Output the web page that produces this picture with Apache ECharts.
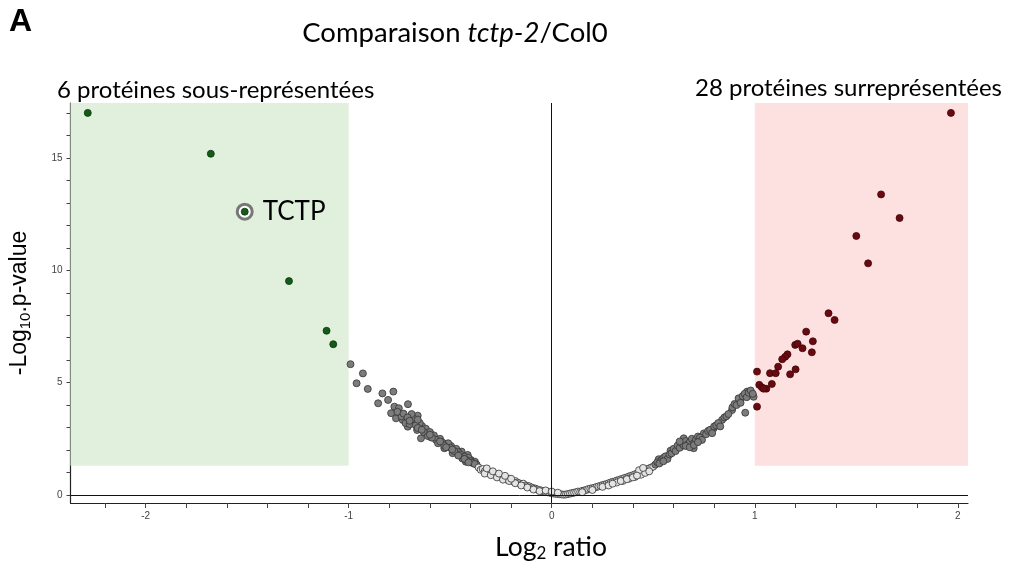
<!DOCTYPE html>
<html><head><meta charset="utf-8">
<script src="https://cdn.jsdelivr.net/npm/echarts@6/dist/echarts.min.js"></script>
<style>html,body{margin:0;padding:0;background:#fff}#c{width:1011px;height:564px}</style>
</head><body><div id="c"></div>
<script>
// ---- Data ----
const xTickValues = [-2.2,-2.0,-1.8,-1.6,-1.4,-1.2,-1.0,-0.8,-0.6,-0.4,-0.2,0,0.2,0.4,0.6,0.8,1.0,1.2,1.4,1.6,1.8,2.0];
const xLabelValues = [-2,-1,0,1,2];
const yTickValues = [0,1,2,3,4,5,6,7,8,9,10,11,12,13,14,15,16,17];
const yLabelValues = [0,5,10,15];
const xRange = [-2.37, 2.05];
const yRange = [-0.36, 17.45];
const pThreshold = 1.3;       // -log10(0.05)
const ratioThreshold = 1;     // |log2 ratio|

const downProteins = [
  [-2.285,17.01],[-1.679,15.19],[-1.512,12.61],[-1.294,9.52],[-1.109,7.31],[-1.076,6.71]
];
const tctpIndex = 2;
const upProteins = [
  [1.966,17.01],[1.622,13.38],[1.713,12.33],[1.500,11.53],[1.558,10.31],[1.363,8.09],[1.393,7.79],
  [1.253,7.27],[1.286,6.84],[1.199,6.68],[1.211,6.73],[1.235,6.53],[1.281,6.35],[1.161,6.26],
  [1.150,6.15],[1.135,6.04],[1.115,5.71],[1.011,5.49],[1.075,5.42],[1.103,5.42],[1.201,5.59],
  [1.174,5.37],[1.084,4.94],[1.022,4.90],[1.035,4.79],[1.057,4.73],[1.043,4.73],[1.011,3.93]
];
const otherProteinsLeft = [
  [-0.991,5.82],[-0.930,5.41],[-0.961,4.97],[-0.906,4.72],[-0.834,4.52],[-0.780,4.60],[-0.855,4.08],
  [-0.806,4.23],[-0.775,3.93],[-0.753,3.86],[-0.708,4.04],[-0.791,3.64],[-0.767,3.41],[-0.734,3.34],
  [-0.696,3.34],[-0.660,3.53],[-0.677,3.26],[-0.709,3.04],[-0.639,3.07],[-0.663,2.89],[-0.644,2.52],
  [-0.611,2.74],[-0.595,2.57],[-0.562,2.42],[-0.521,2.27],[-0.529,2.08],[-0.496,2.18],[-0.472,2.00],
  [-0.488,1.86],[-0.444,1.93],[-0.414,1.78],[-0.398,1.56],[-0.378,1.48],[-0.423,1.48],
  [-0.72,3.20],[-0.70,3.15],[-0.68,3.40],[-0.65,3.20],[-0.62,2.95],[-0.60,2.80],[-0.58,2.65],
  [-0.55,2.50],[-0.54,2.35],[-0.51,2.30],[-0.50,2.10],[-0.47,2.05],[-0.46,1.90],[-0.45,1.80],
  [-0.43,1.70],[-0.41,1.65],[-0.40,1.50],[-0.39,1.42],[-0.37,1.35],[-0.74,3.50],[-0.69,3.60],
  [-0.63,2.80],[-0.57,2.45],[-0.53,2.20],[-0.48,1.95],[-0.44,1.62],[-0.42,1.55],[-0.38,1.38],
  [-0.76,3.70],[-0.73,3.62],[-0.71,3.45],[-0.67,3.10],[-0.66,2.98],[-0.64,2.90],[-0.61,2.62],
  [-0.59,2.55],[-0.56,2.30],[-0.52,2.12],[-0.49,2.02],[-0.46,1.75],[-0.43,1.60],[-0.41,1.45],
  [-0.70,3.30],[-0.66,3.35],[-0.60,2.68],[-0.55,2.38],
  [-0.36,1.22],[-0.35,1.12],[-0.34,1.15],[-0.33,1.05],[-0.32,1.10],[-0.31,0.98],[-0.30,1.02],
  [-0.29,0.92],[-0.28,0.95],[-0.27,0.85],[-0.26,0.88],[-0.25,0.80],[-0.24,0.75],[-0.23,0.78],
  [-0.22,0.68],[-0.21,0.72],[-0.20,0.64],[-0.19,0.60],[-0.18,0.62],[-0.17,0.55],[-0.16,0.52],
  [-0.15,0.48],[-0.14,0.50],[-0.13,0.42],[-0.12,0.40],[-0.11,0.38],[-0.10,0.33],[-0.09,0.30],
  [-0.08,0.28],[-0.07,0.24],[-0.06,0.22],[-0.05,0.18],[-0.04,0.16],[-0.03,0.13],[-0.02,0.12],
  [-0.01,0.10],[-0.33,0.95],[-0.30,0.88],[-0.27,0.78],[-0.24,0.68],[-0.21,0.62],[-0.18,0.52],
  [-0.15,0.42],[-0.12,0.33],[-0.09,0.24],[-0.06,0.17],[-0.03,0.20],
  [-0.32,1.18],[-0.29,1.05],[-0.26,0.95],[-0.23,0.85],[-0.20,0.72]
];
const otherProteinsRight = [
  [0.00,0.08],[0.01,0.06],[0.02,0.05],[0.03,0.04],[0.04,0.03],[0.05,0.02],[0.06,0.01],[0.07,0.02],
  [0.08,0.04],[0.00,0.15],[0.03,0.10],
  [0.09,0.06],[0.10,0.08],[0.11,0.10],[0.12,0.12],[0.13,0.15],[0.14,0.14],[0.15,0.18],[0.16,0.20],
  [0.17,0.22],[0.18,0.26],[0.19,0.28],[0.20,0.30],[0.21,0.32],[0.22,0.35],[0.23,0.38],[0.24,0.40],
  [0.25,0.44],[0.26,0.46],[0.27,0.48],[0.28,0.52],[0.29,0.55],[0.30,0.58],[0.31,0.60],[0.32,0.64],
  [0.33,0.66],[0.34,0.70],[0.35,0.72],[0.36,0.76],[0.37,0.78],[0.38,0.82],[0.39,0.85],[0.40,0.88],
  [0.41,0.92],[0.42,0.95],[0.43,0.98],[0.44,1.02],[0.45,1.05],[0.46,1.10],[0.47,1.14],[0.48,1.18],
  [0.49,1.22],[0.50,1.26],[0.15,0.12],[0.20,0.22],[0.25,0.36],[0.28,0.42],[0.32,0.55],[0.35,0.62],
  [0.38,0.72],[0.41,0.80],[0.44,0.90],[0.46,0.98],[0.48,1.05],[0.43,1.10],[0.45,1.20],
  [0.527,1.59],[0.585,1.97],[0.650,2.52],[0.716,2.37],[0.699,2.08],[0.749,2.74],[0.798,2.97],
  [0.839,3.34],[0.888,3.78],[0.929,4.23],[0.962,4.60],[0.994,4.37],[0.953,3.66],
  [0.51,1.35],[0.52,1.45],[0.54,1.55],[0.55,1.65],[0.56,1.72],[0.57,1.60],[0.58,1.80],[0.59,1.85],
  [0.60,2.05],[0.61,1.95],[0.62,2.20],[0.63,2.10],[0.64,2.30],[0.65,2.20],[0.66,2.40],[0.67,2.25],
  [0.68,2.35],[0.69,2.50],[0.70,2.30],[0.71,2.45],[0.72,2.60],[0.73,2.55],[0.74,2.45],[0.76,2.70],
  [0.77,2.85],[0.78,2.90],[0.79,2.75],[0.80,3.05],[0.81,3.10],[0.82,3.20],[0.83,3.05],[0.85,3.45],
  [0.86,3.50],[0.87,3.60],[0.89,3.90],[0.90,4.05],[0.91,4.00],[0.92,4.30],[0.93,4.10],[0.94,4.40],
  [0.95,4.50],[0.96,4.35],[0.97,4.55],[0.98,4.65],[0.99,4.50],
  [0.66,2.18],[0.68,2.12],[0.70,2.22],[0.72,2.35],[0.53,1.40],[0.55,1.50],[0.63,2.38],
  [0.30,0.50],[0.34,0.62],[0.37,0.70],[0.40,0.78],[0.42,0.86]
];
const titleParts = ['Comparaison ', 'tctp-2', '/Col0'];
const panelLetter = 'A';
const downText = '6 protéines sous-représentées';
const upText = '28 protéines surreprésentées';
const highlightLabel = 'TCTP';
const xAxisTitle = ['Log', '2', ' ratio'];
const yAxisTitle = ['-Log', '10', '.p-value'];

// ---- Chart ----
const chart = echarts.init(document.getElementById('c'), null, {renderer: 'canvas'});
const otherProteins = otherProteinsLeft.concat(otherProteinsRight);
const tickFont = {fontFamily: 'Liberation Sans, Arial, sans-serif', fontSize: 10, color: '#444'};

const option = {
  animation: false,
  backgroundColor: '#fff',
  grid: {left: 69, right: 43, top: 103, bottom: 61},
  xAxis: {
    type: 'value', min: xRange[0], max: xRange[1],
    axisLine: {show: true, onZero: false, lineStyle: {color: '#222', width: 1.2}},
    axisTick: {show: true, length: 5, lineStyle: {color: '#444'}, customValues: xTickValues},
    axisLabel: Object.assign({margin: 8, customValues: xLabelValues}, tickFont),
    splitLine: {show: false}
  },
  yAxis: {
    type: 'value', min: yRange[0], max: yRange[1],
    axisLine: {show: true, onZero: false, lineStyle: {color: '#222', width: 1.2}},
    axisTick: {show: true, length: 4, lineStyle: {color: '#444'}, customValues: yTickValues},
    axisLabel: Object.assign({margin: 8, customValues: yLabelValues}, tickFont),
    splitLine: {show: false},
    name: '{a|' + yAxisTitle[0] + '}{s|' + yAxisTitle[1] + '}{a|' + yAxisTitle[2] + '}',
    nameLocation: 'middle', nameGap: 37, nameRotate: 90,
    nameTextStyle: {rich: {
      a: {fontFamily: 'Liberation Sans', fontSize: 23, color: '#000', lineHeight: 28},
      s: {fontFamily: 'Liberation Sans', fontSize: 15, color: '#000', padding: [12, 0, 0, 0]}
    }}
  },
  series: [
    {
      type: 'scatter', name: 'other', data: otherProteins, symbolSize: 7, z: 3,
      itemStyle: {
        opacity: 1,
        color: p => (p.value[1] < pThreshold ? '#e4e4e4' : '#7c7c7c'),
        borderColor: '#333', borderWidth: 0.8
      },
      markArea: {
        silent: true,
        data: [
          [{coord: [xRange[0], pThreshold], itemStyle: {color: '#e1f0dd'}}, {coord: [-ratioThreshold, yRange[1]]}],
          [{coord: [ratioThreshold, pThreshold], itemStyle: {color: '#fde1e1'}}, {coord: [xRange[1], yRange[1]]}]
        ]
      },
      markLine: {
        silent: true, symbol: 'none', label: {show: false},
        lineStyle: {color: '#111', width: 1, type: 'solid'},
        data: [{xAxis: 0}, {yAxis: 0}]
      }
    },
    {
      type: 'scatter', name: 'ring', z: 4,
      data: [downProteins[tctpIndex]], symbolSize: 15,
      itemStyle: {opacity: 1, color: '#ffffff', borderColor: '#777', borderWidth: 3},
      label: {show: true, position: 'right', distance: 9, formatter: highlightLabel,
        fontFamily: 'Lato', fontSize: 26, color: '#000'}
    },
    {
      type: 'scatter', name: 'down', data: downProteins, symbolSize: 7, z: 5,
      itemStyle: {opacity: 1, color: '#145a18', borderColor: '#0b3a0d', borderWidth: 0.8}
    },
    {
      type: 'scatter', name: 'up', data: upProteins, symbolSize: 7, z: 5,
      itemStyle: {opacity: 1, color: '#6a0a10', borderColor: '#3f0508', borderWidth: 0.8}
    }
  ],
  graphic: [
    {type: 'text', left: 9, top: 6, style: {text: panelLetter, font: 'bold 32px "Liberation Sans", Arial, sans-serif', fill: '#000'}},
    {type: 'text', x: 455, y: 33, style: {
      text: '{a|' + titleParts[0] + '}{b|' + titleParts[1] + '}{a|' + titleParts[2] + '}',
      align: 'center', verticalAlign: 'middle',
      rich: {a: {fontFamily: 'Lato', fontSize: 27.5, fill: '#000'}, b: {fontFamily: 'Lato', fontSize: 27.5, fontStyle: 'italic', fill: '#000'}}
    }},
    {type: 'text', x: 57, y: 90, style: {text: downText, font: '24px Lato', fill: '#000', verticalAlign: 'middle', align: 'left'}},
    {type: 'text', x: 1002, y: 88, style: {text: upText, font: '24px Lato', fill: '#000', verticalAlign: 'middle', align: 'right'}},
    {type: 'text', x: 551, y: 547, style: {
      text: '{a|' + xAxisTitle[0] + '}{s|' + xAxisTitle[1] + '}{a|' + xAxisTitle[2] + '}',
      align: 'center', verticalAlign: 'middle',
      rich: {a: {fontFamily: 'Lato', fontSize: 26.5, fill: '#000', lineHeight: 30},
             s: {fontFamily: 'Lato', fontSize: 17, fill: '#000', padding: [14, 0, 0, 0]}}
    }}
  ]
};
chart.setOption(option);
</script>
</body></html>
